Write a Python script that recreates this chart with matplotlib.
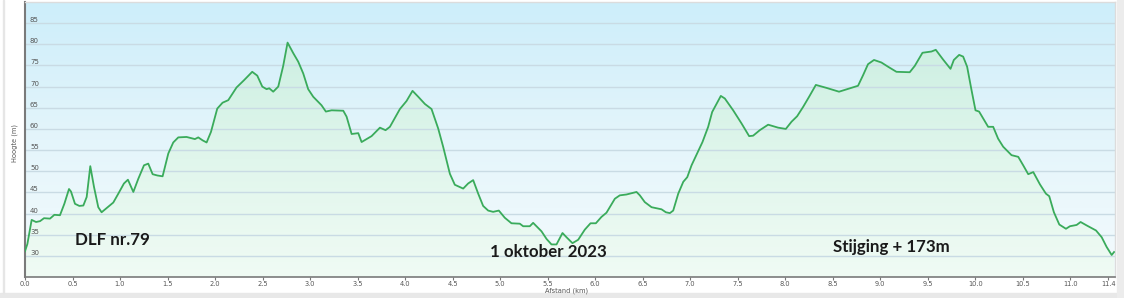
import matplotlib
matplotlib.use("Agg")
import matplotlib.pyplot as plt
import numpy as np
from matplotlib.colors import LinearSegmentedColormap
from matplotlib.patches import Polygon, Rectangle

# ---- data ----
dist = [0.000, 0.025, 0.070, 0.116, 0.158, 0.200, 0.263, 0.309, 0.368, 0.414, 0.463, 0.484,
        0.526, 0.572, 0.614, 0.649, 0.687, 0.726, 0.771, 0.806, 0.859, 0.929, 0.982, 1.041,
        1.083, 1.140, 1.192, 1.252, 1.297, 1.343, 1.392, 1.448, 1.508, 1.560, 1.613, 1.700,
        1.788, 1.823, 1.869, 1.911, 1.957, 2.023, 2.079, 2.139, 2.174, 2.226, 2.304, 2.391,
        2.444, 2.497, 2.542, 2.570, 2.612, 2.665, 2.717, 2.763, 2.823, 2.875, 2.928, 2.980,
        3.033, 3.085, 3.120, 3.166, 3.226, 3.349, 3.384, 3.437, 3.507, 3.542, 3.647, 3.735,
        3.794, 3.840, 3.945, 4.015, 4.078, 4.138, 4.208, 4.278, 4.348, 4.400, 4.471, 4.523,
        4.611, 4.663, 4.716, 4.769, 4.821, 4.874, 4.926, 4.986, 5.049, 5.119, 5.207, 5.242,
        5.312, 5.347, 5.435, 5.488, 5.540, 5.593, 5.656, 5.698, 5.761, 5.821, 5.891, 5.951,
        6.007, 6.066, 6.119, 6.207, 6.259, 6.329, 6.435, 6.470, 6.522, 6.593, 6.698, 6.744,
        6.786, 6.821, 6.874, 6.927, 6.969, 7.014, 7.066, 7.129, 7.189, 7.231, 7.277, 7.322,
        7.364, 7.452, 7.540, 7.620, 7.662, 7.732, 7.820, 7.925, 8.006, 8.066, 8.125, 8.188,
        8.251, 8.322, 8.434, 8.566, 8.766, 8.819, 8.871, 8.934, 9.012, 9.082, 9.170, 9.310,
        9.363, 9.444, 9.539, 9.584, 9.661, 9.739, 9.774, 9.830, 9.872, 9.914, 9.960, 10.002,
        10.040, 10.082, 10.135, 10.188, 10.240, 10.293, 10.381, 10.452, 10.504, 10.557, 10.610,
        10.680, 10.743, 10.778, 10.827, 10.884, 10.954, 10.996, 11.066, 11.108, 11.171, 11.270,
        11.330, 11.382, 11.435, 11.460]
elev = [31.1, 32.8, 38.5, 38.0, 38.2, 38.9, 38.8, 39.7, 39.6, 42.3, 45.8, 45.2,
        42.3, 41.8, 41.9, 43.9, 51.2, 46.3, 41.5, 40.3, 41.3, 42.6, 44.7, 47.1,
        48.0, 45.1, 48.2, 51.4, 51.8, 49.3, 49.0, 48.8, 54.2, 56.8, 58.0, 58.1,
        57.6, 58.0, 57.3, 56.8, 59.3, 64.8, 66.2, 66.8, 68.0, 69.8, 71.5, 73.5,
        72.6, 70.0, 69.4, 69.6, 68.8, 70.0, 74.9, 80.4, 77.9, 75.9, 73.1, 69.4,
        67.6, 66.4, 65.6, 64.1, 64.4, 64.3, 62.9, 58.8, 59.0, 56.9, 58.3, 60.3,
        59.7, 60.5, 64.7, 66.6, 69.0, 67.6, 65.9, 64.7, 60.1, 55.8, 49.4, 46.8,
        45.9, 47.1, 47.9, 44.7, 41.8, 40.7, 40.4, 40.7, 39.0, 37.7, 37.6, 37.0,
        37.0, 37.8, 35.8, 34.0, 32.7, 32.7, 35.4, 34.4, 33.0, 33.8, 36.2, 37.7,
        37.7, 39.2, 40.2, 43.5, 44.3, 44.5, 45.1, 44.3, 42.7, 41.5, 41.0, 40.3,
        40.1, 40.7, 44.7, 47.5, 48.6, 51.4, 53.9, 56.9, 60.5, 64.0, 65.9, 67.8,
        67.2, 64.4, 61.3, 58.3, 58.4, 59.7, 61.0, 60.3, 60.0, 61.7, 63.0, 65.2,
        67.6, 70.4, 69.7, 68.8, 70.2, 72.7, 75.3, 76.3, 75.7, 74.7, 73.5, 73.4,
        74.9, 78.0, 78.3, 78.7, 76.4, 74.2, 76.3, 77.5, 77.1, 74.7, 69.2, 64.4,
        64.1, 62.5, 60.5, 60.5, 57.7, 55.8, 53.8, 53.4, 51.4, 49.3, 49.8,
        46.9, 44.7, 44.1, 40.3, 37.4, 36.4, 37.0, 37.3, 38.0, 37.2, 36.0,
        34.4, 32.1, 30.2, 30.9]

x_ticks = [0.0, 0.5, 1.0, 1.5, 2.0, 2.5, 3.0, 3.5, 4.0, 4.5, 5.0, 5.5, 6.0, 6.5, 7.0,
           7.5, 8.0, 8.5, 9.0, 9.5, 10.0, 10.5, 11.0, 11.4]
y_ticks = [30, 35, 40, 45, 50, 55, 60, 65, 70, 75, 80, 85]

annotations = [("DLF nr.79", 0.526, 32.45),
               ("1 oktober 2023", 4.89, 29.7),
               ("Stijging + 173m", 8.50, 30.8)]

XMIN, XMAX = 0.0, 11.47
YMIN, YMAX = 25.0, 90.0

W, H = 1124, 298
fig = plt.figure(figsize=(W / 100, H / 100), dpi=100)
fig.patch.set_facecolor("white")

# frame strips (gray borders of the screenshot)
fig.patches.append(Rectangle((0, 0), 1, 5 / H, transform=fig.transFigure,
                             color="#e8e8e8", zorder=0))
fig.patches.append(Rectangle((1117 / W, 0), 7 / W, 1, transform=fig.transFigure,
                             color="#ececec", zorder=0))
fig.patches.append(Rectangle((3 / W, 5 / H), 1 / W, 1 - 5 / H, transform=fig.transFigure,
                             color="#e6e6e6", zorder=0))

ax = fig.add_axes([25 / W, 21 / H, 1090 / W, 275 / H])
ax.set_xlim(XMIN, XMAX)
ax.set_ylim(YMIN, YMAX)

# background gradient
bg = LinearSegmentedColormap.from_list("bg", ["#f4fbfd", "#e4f5fb", "#cdeefa"])
grad = np.linspace(0, 1, 256).reshape(-1, 1)
ax.imshow(grad, aspect="auto", cmap=bg, origin="lower",
          extent=[XMIN, XMAX, YMIN, YMAX], zorder=0)

# green gradient fill under the profile
gr = LinearSegmentedColormap.from_list("gr", ["#f0fbf4", "#e0f6ec", "#cdefe2"])
img = ax.imshow(grad, aspect="auto", cmap=gr, origin="lower",
                extent=[XMIN, XMAX, YMIN, 81], zorder=1)
poly_xy = np.column_stack([np.r_[dist[0], dist, dist[-1]],
                           np.r_[YMIN, elev, YMIN]])
poly = Polygon(poly_xy, closed=True, facecolor="none", edgecolor="none")
ax.add_patch(poly)
img.set_clip_path(poly)

# gridlines
for yv in y_ticks:
    ax.axhline(yv, color="#c9dbe4", lw=1.0, zorder=2)

ax.plot(dist, elev, color="#3aab5b", lw=1.3, zorder=4, solid_joinstyle="round")

# spines
for s in ["top", "right"]:
    ax.spines[s].set_color("#dcdcdc")
    ax.spines[s].set_linewidth(1.0)
ax.spines["left"].set_color("#7a7a7a")
ax.spines["left"].set_linewidth(1.5)
ax.spines["bottom"].set_color("#7a7a7a")
ax.spines["bottom"].set_linewidth(1.2)

ax.set_xticks(x_ticks)
ax.set_xticklabels([f"{t:.1f}" for t in x_ticks])
ax.tick_params(axis="x", direction="out", length=2, width=0.8, color="#777777",
               labelsize=4.8, labelcolor="#555555", pad=1)
ax.set_yticks([])

# y tick labels inside plot
for yv in y_ticks:
    ax.annotate(str(yv), xy=(0, yv), xycoords=("axes fraction", "data"),
                xytext=(5, 3), textcoords="offset pixels", ha="left", va="center",
                fontsize=5.0, color="#555555", zorder=5)

fig.text(15 / W, 1 - 143 / H, "Hoogte (m)", rotation=90, ha="center", va="center",
         fontsize=4.8, color="#555555")
fig.text(567 / W, 1 - 291 / H, "Afstand (km)", ha="center", va="center",
         fontsize=4.8, color="#555555")

for txt, xv, yv in annotations:
    ax.text(xv, yv, txt, ha="left", va="baseline", fontsize=12.2, fontweight="bold",
            family=["Lato", "DejaVu Sans"], color="#1a1a1a", zorder=6)

fig.savefig("out.png", dpi=100)
